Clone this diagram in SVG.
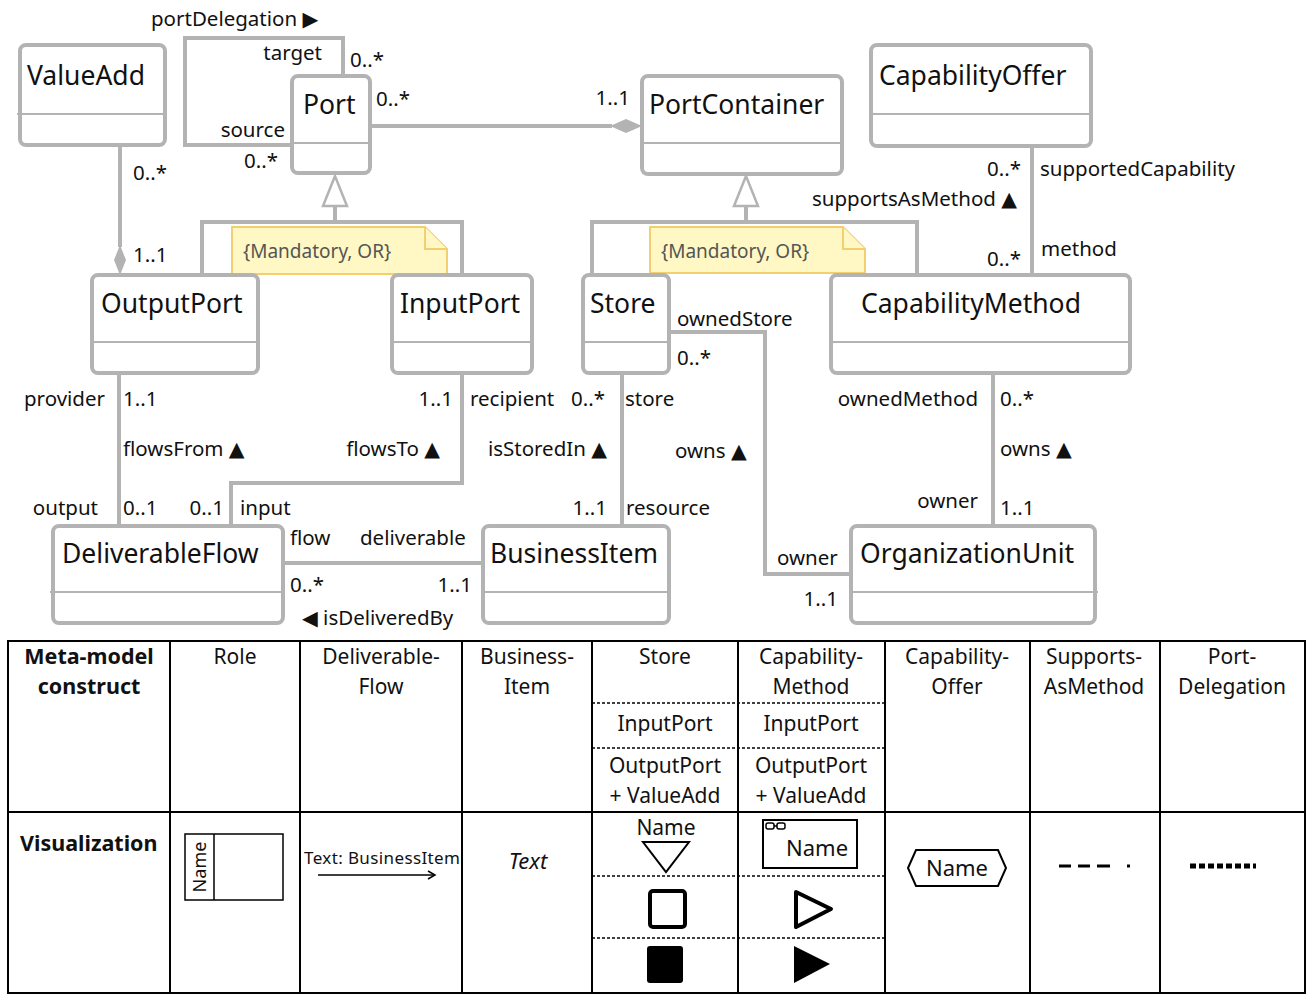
<svg xmlns="http://www.w3.org/2000/svg" width="1308" height="994" viewBox="0 0 1308 994">
<style>
.box{fill:#fff;stroke:#b3b3b3;stroke-width:4}
.div{stroke:#b3b3b3;stroke-width:2}
.cname{font-family:"Noto Sans","Open Sans",sans-serif;font-size:26.5px;fill:#111}
.lbl{font-family:"Noto Sans","DejaVu Sans",sans-serif;font-size:20.5px;fill:#111}
.e{text-anchor:end}
.con{fill:none;stroke:#b3b3b3;stroke-width:4}
.note{fill:#fff8c4;stroke:#f3cf72;stroke-width:2}
.ntxt{font-family:"Noto Sans",sans-serif;font-size:19px;fill:#555}
.tb{fill:none;stroke:#000;stroke-width:2}
.dash{stroke:#000;stroke-width:1.6;stroke-dasharray:3 2}
.th{font-family:"Noto Sans","Liberation Sans",sans-serif;font-size:21px;fill:#111;text-anchor:middle}
.thb{font-family:"Noto Sans","Liberation Sans",sans-serif;font-size:21.5px;font-weight:bold;fill:#111}
</style>

<g id="connectors">
  <path class="con" d="M343,76 V38 H185 V145 H292"/>
  <path class="con" d="M370,126 H612"/>
  <polygon points="642,126 626,119 610,126 626,133" fill="#b3b3b3"/>
  <path class="con" d="M120,146 V247"/>
  <polygon points="120,275 126,260 120,245 114,260" fill="#b3b3b3"/>
  <path class="con" d="M335,206 V222 M202,275 V222 H462 V275"/>
  <polygon points="335,176 323,206 347,206" fill="#fff" stroke="#b3b3b3" stroke-width="2.5"/>
  <path class="con" d="M746,206 V222 M592,275 V222 H917 V275"/>
  <polygon points="746,176 734,206 758,206" fill="#fff" stroke="#b3b3b3" stroke-width="2.5"/>
  <path class="con" d="M1032,146 V275"/>
  <path class="con" d="M119,373 V526"/>
  <path class="con" d="M462,373 V483 H231 V526"/>
  <path class="con" d="M283,563 H483"/>
  <path class="con" d="M622,373 V526"/>
  <path class="con" d="M669,332 H765 V574 H851"/>
  <path class="con" d="M993,373 V526"/>
</g>

<g id="note1">
  <path class="note" d="M232,227 H425 L447,249 V274 H232 Z"/>
  <path class="note" d="M425,227 V249 H447" fill="none"/>
  <text class="ntxt" x="243" y="258">{Mandatory, OR}</text>
</g>
<g id="note2">
  <path class="note" d="M650,227 H843 L865,249 V273 H650 Z"/>
  <path class="note" d="M843,227 V249 H865" fill="none"/>
  <text class="ntxt" x="661" y="258">{Mandatory, OR}</text>
</g>

<g id="ValueAdd"><rect class="box" x="20" y="45" width="145" height="100" rx="6"/><line class="div" x1="17" y1="114" x2="165" y2="114"/><text class="cname" x="27" y="85">ValueAdd</text></g>
<g id="Port"><rect class="box" x="292" y="76" width="78" height="97" rx="6"/><line class="div" x1="292" y1="143" x2="370" y2="143"/><text class="cname" x="303" y="114">Port</text></g>
<g id="PortContainer"><rect class="box" x="642" y="76" width="200" height="98" rx="6"/><line class="div" x1="640" y1="143" x2="842" y2="143"/><text class="cname" x="649" y="114">PortContainer</text></g>
<g id="CapabilityOffer"><rect class="box" x="871" y="45" width="220" height="101" rx="6"/><line class="div" x1="871" y1="114" x2="1093" y2="114"/><text class="cname" x="879" y="85">CapabilityOffer</text></g>
<g id="OutputPort"><rect class="box" x="92" y="275" width="166" height="98" rx="6"/><line class="div" x1="92" y1="342" x2="258" y2="342"/><text class="cname" x="101" y="313">OutputPort</text></g>
<g id="InputPort"><rect class="box" x="392" y="275" width="140" height="98" rx="6"/><line class="div" x1="392" y1="342" x2="532" y2="342"/><text class="cname" x="400" y="313">InputPort</text></g>
<g id="Store"><rect class="box" x="583" y="275" width="86" height="98" rx="6"/><line class="div" x1="583" y1="342" x2="669" y2="342"/><text class="cname" x="590" y="313">Store</text></g>
<g id="CapabilityMethod"><rect class="box" x="831" y="275" width="299" height="98" rx="6"/><line class="div" x1="831" y1="342" x2="1130" y2="342"/><text class="cname" x="861" y="313">CapabilityMethod</text></g>
<g id="DeliverableFlow"><rect class="box" x="53" y="526" width="230" height="97" rx="6"/><line class="div" x1="50" y1="592" x2="283" y2="592"/><text class="cname" x="62" y="563">DeliverableFlow</text></g>
<g id="BusinessItem"><rect class="box" x="483" y="526" width="186" height="97" rx="6"/><line class="div" x1="483" y1="592" x2="671" y2="592"/><text class="cname" x="490" y="563">BusinessItem</text></g>
<g id="OrganizationUnit"><rect class="box" x="851" y="526" width="244" height="97" rx="6"/><line class="div" x1="851" y1="592" x2="1098" y2="592"/><text class="cname" x="860" y="563">OrganizationUnit</text></g>

<g id="labels">
  <text class="lbl" x="151" y="26">portDelegation ▶</text>
  <text class="lbl e" x="322" y="60">target</text>
  <text class="lbl" x="350" y="67">0..*</text>
  <text class="lbl e" x="285" y="137">source</text>
  <text class="lbl e" x="278" y="168">0..*</text>
  <text class="lbl" x="376" y="106">0..*</text>
  <text class="lbl e" x="630" y="105">1..1</text>
  <text class="lbl" x="133" y="180">0..*</text>
  <text class="lbl" x="133" y="262">1..1</text>
  <text class="lbl e" x="1021" y="176">0..*</text>
  <text class="lbl" x="1040" y="176">supportedCapability</text>
  <text class="lbl e" x="1017" y="206">supportsAsMethod ▲</text>
  <text class="lbl e" x="1021" y="266">0..*</text>
  <text class="lbl" x="1041" y="256">method</text>
  <text class="lbl e" x="105" y="406">provider</text>
  <text class="lbl" x="123" y="406">1..1</text>
  <text class="lbl" x="123" y="456">flowsFrom ▲</text>
  <text class="lbl e" x="98" y="515">output</text>
  <text class="lbl" x="123" y="515">0..1</text>
  <text class="lbl e" x="453" y="406">1..1</text>
  <text class="lbl" x="470" y="406">recipient</text>
  <text class="lbl e" x="440" y="456">flowsTo ▲</text>
  <text class="lbl e" x="224" y="515">0..1</text>
  <text class="lbl" x="240" y="515">input</text>
  <text class="lbl" x="290" y="545">flow</text>
  <text class="lbl" x="360" y="545">deliverable</text>
  <text class="lbl" x="290" y="592">0..*</text>
  <text class="lbl e" x="472" y="592">1..1</text>
  <text class="lbl" x="302" y="625">◀ isDeliveredBy</text>
  <text class="lbl e" x="605" y="406">0..*</text>
  <text class="lbl" x="625" y="406">store</text>
  <text class="lbl e" x="607" y="456">isStoredIn ▲</text>
  <text class="lbl e" x="607" y="515">1..1</text>
  <text class="lbl" x="626" y="515">resource</text>
  <text class="lbl" x="677" y="326">ownedStore</text>
  <text class="lbl" x="677" y="365">0..*</text>
  <text class="lbl" x="675" y="458">owns ▲</text>
  <text class="lbl" x="777" y="565">owner</text>
  <text class="lbl e" x="838" y="606">1..1</text>
  <text class="lbl e" x="978" y="406">ownedMethod</text>
  <text class="lbl" x="1000" y="406">0..*</text>
  <text class="lbl" x="1000" y="456">owns ▲</text>
  <text class="lbl e" x="978" y="508">owner</text>
  <text class="lbl" x="1000" y="515">1..1</text>
</g>

<g id="table">
  <rect class="tb" x="8" y="641" width="1297" height="352"/>
  <path class="tb" d="M8,812 H1305 M170,641 V993 M300,641 V993 M462,641 V993 M592,641 V993 M738,641 V993 M885,641 V993 M1030,641 V993 M1160,641 V993"/>
  <path class="dash" d="M592,703 H885 M592,748 H885 M592,876 H885 M592,938 H885"/>
  <text class="thb" x="89" y="664" text-anchor="middle">Meta-model</text>
  <text class="thb" x="89" y="694" text-anchor="middle">construct</text>
  <text class="th" x="235" y="664">Role</text>
  <text class="th" x="381" y="664">Deliverable-</text>
  <text class="th" x="381" y="694">Flow</text>
  <text class="th" x="527" y="664">Business-</text>
  <text class="th" x="527" y="694">Item</text>
  <text class="th" x="665" y="664">Store</text>
  <text class="th" x="811" y="664">Capability-</text>
  <text class="th" x="811" y="694">Method</text>
  <text class="th" x="665" y="731">InputPort</text>
  <text class="th" x="811" y="731">InputPort</text>
  <text class="th" x="665" y="773">OutputPort</text>
  <text class="th" x="665" y="803">+ ValueAdd</text>
  <text class="th" x="811" y="773">OutputPort</text>
  <text class="th" x="811" y="803">+ ValueAdd</text>
  <text class="th" x="957" y="664">Capability-</text>
  <text class="th" x="957" y="694">Offer</text>
  <text class="th" x="1094" y="664">Supports-</text>
  <text class="th" x="1094" y="694">AsMethod</text>
  <text class="th" x="1232" y="664">Port-</text>
  <text class="th" x="1232" y="694">Delegation</text>
  <text class="thb" x="20" y="851">Visualization</text>

  <rect x="185" y="834" width="98" height="66" fill="none" stroke="#000" stroke-width="1.5"/>
  <line x1="214" y1="834" x2="214" y2="900" stroke="#000" stroke-width="1.5"/>
  <text x="206" y="867" transform="rotate(-90 206 867)" text-anchor="middle" font-family="Noto Sans,sans-serif" font-size="18" fill="#111">Name</text>

  <text x="304" y="864" font-family="Noto Sans,sans-serif" font-size="17" fill="#111" textLength="156">Text: BusinessItem</text>
  <line x1="318" y1="875" x2="434" y2="875" stroke="#000" stroke-width="1.5"/>
  <path d="M428,871 L435,875 L428,879" fill="none" stroke="#000" stroke-width="1.5"/>

  <text x="528" y="869" text-anchor="middle" font-family="Noto Sans,sans-serif" font-size="22" font-style="italic" fill="#111">Text</text>

  <text x="666" y="835" text-anchor="middle" font-family="Noto Sans,sans-serif" font-size="21" fill="#111">Name</text>
  <polygon points="643,842 689,842 666,872" fill="none" stroke="#000" stroke-width="2"/>
  <rect x="650" y="891" width="35" height="36" rx="3" fill="none" stroke="#000" stroke-width="4"/>
  <rect x="647" y="946" width="36" height="37" rx="3" fill="#000"/>

  <rect x="763" y="820" width="94" height="48" fill="none" stroke="#000" stroke-width="2"/>
  <rect x="766" y="823" width="8" height="6" rx="2" fill="none" stroke="#000" stroke-width="1.5"/>
  <rect x="777" y="823" width="8" height="6" rx="2" fill="none" stroke="#000" stroke-width="1.5"/>
  <line x1="774" y1="826" x2="777" y2="826" stroke="#000" stroke-width="1.5"/>
  <text x="786" y="856" font-family="Noto Sans,sans-serif" font-size="22" fill="#111">Name</text>
  <polygon points="796,892 831,909 796,927" fill="none" stroke="#000" stroke-width="4" stroke-linejoin="round"/>
  <polygon points="794,946 830,964 794,983" fill="#000"/>

  <polygon points="908,868 916,850 998,850 1006,868 998,886 916,886" fill="none" stroke="#000" stroke-width="2"/>
  <text x="957" y="876" text-anchor="middle" font-family="Noto Sans,sans-serif" font-size="22" fill="#111">Name</text>

  <path d="M1059,866 H1071 M1078,866 H1090 M1097,866 H1110 M1127,866 H1130" stroke="#000" stroke-width="3"/>
  <line x1="1190" y1="866" x2="1256" y2="866" stroke="#000" stroke-width="5" stroke-dasharray="6 3"/>
</g>
</svg>
